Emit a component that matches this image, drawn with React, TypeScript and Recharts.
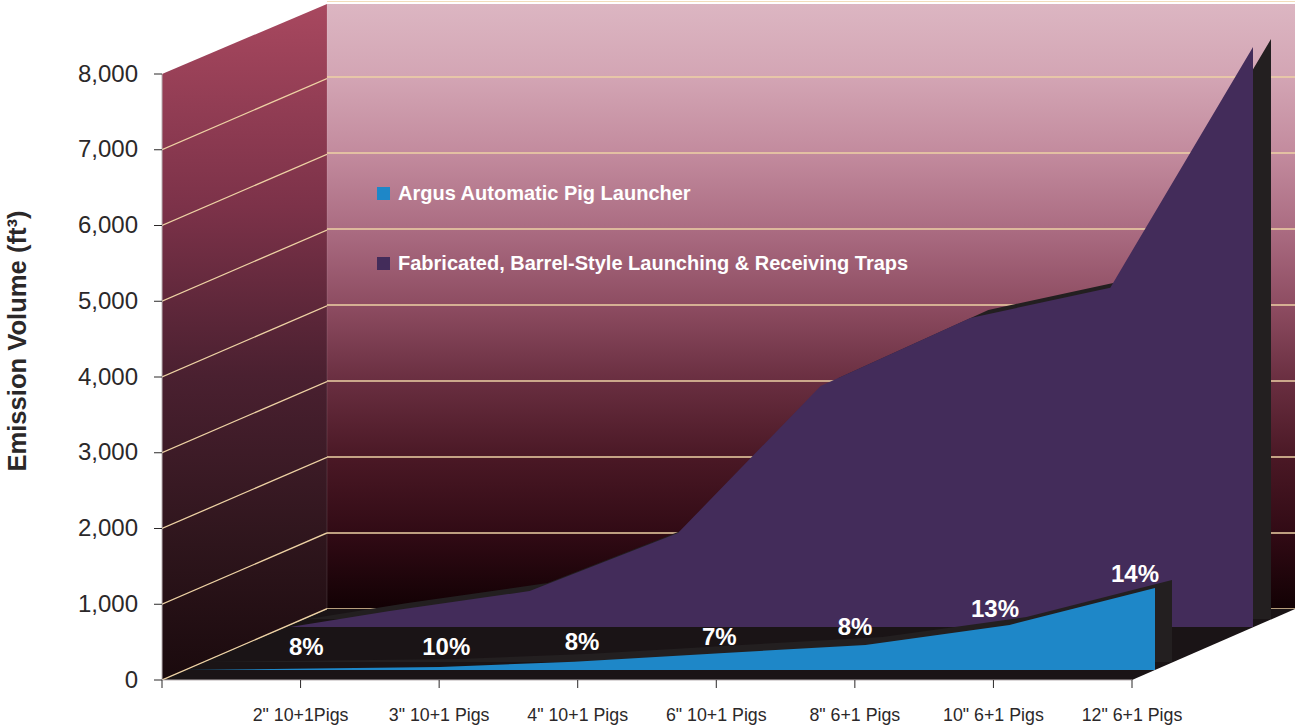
import {
  Area,
  AreaChart,
  CartesianGrid,
  ComposedChart,
  Label,
  LabelList,
  Line,
  LineChart,
  ReferenceLine,
  XAxis,
  YAxis,
} from 'recharts'

const categories = ['2" 10+1Pigs', '3" 10+1 Pigs', '4" 10+1 Pigs', '6" 10+1 Pigs', '8" 6+1 Pigs', '10" 6+1 Pigs', '12" 6+1 Pigs']
const categorySlots = [0, 1, 2, 3, 4, 5, 6, 7]
const volumeTicks = [0, 1000, 2000, 3000, 4000, 5000, 6000, 7000, 8000]
const wallLines = [0, 1000, 2000, 3000, 4000, 5000, 6000, 7000]

const fabricatedName = 'Fabricated, Barrel-Style Launching & Receiving Traps'
const fabricatedSlots = [0.05, 0.77, 1.78, 2.85, 3.88, 4.96, 5.97, 7]
const fabricatedValues = [0, 210, 475, 1241, 3181, 4079, 4480, 7657]

const argusName = 'Argus Automatic Pig Launcher'
const argusSlots = [0, 0.77, 1.84, 2.81, 3.86, 4.91, 5.95, 7]
const argusValues = [0, 17, 40, 110, 222, 330, 594, 1083]

const shareLabels = ['8%', '10%', '8%', '7%', '8%', '13%', '14%']
const shareSlots = [1.02, 2.03, 3.01, 4, 4.98, 5.99, 7]
const shareHeights = [436, 436, 502, 581, 700, 950, 1412]

const fabricatedData = fabricatedSlots.map((at, i) => ({ at, value: fabricatedValues[i] }))
const argusData = argusSlots.map((at, i) => ({ at, value: argusValues[i] }))
const shareData = shareLabels.map((share, i) => ({ at: shareSlots[i], height: shareHeights[i], share }))
// the axes only show up when a series is bound to them
const frameData = categorySlots.map((at, i) => ({ at, level: volumeTicks[i] }))

const BLUE = '#1e87c8'
const PURPLE = '#432c5a'
const EDGE = '#231f20'
const GOLD = '#eed2a4'
const TEXT = '#2b2829'
const FONT = '"Liberation Sans", Arial, sans-serif'

// front plane of the box, in page pixels
const LEFT = 162
const TOP = 74
const WIDTH = 970
const HEIGHT = 606

// one series sits on its own plane, pushed back into the box by dx/dy
function SeriesPlane({ data, dx, dy, fill }: { data: { at: number; value: number }[]; dx: number; dy: number; fill: string }) {
  return (
    <AreaChart
      width={WIDTH}
      height={HEIGHT}
      data={data}
      margin={{ top: 0, right: 0, bottom: 0, left: 0 }}
      style={{ position: 'absolute', left: LEFT + dx, top: TOP + dy }}
    >
      <XAxis hide type="number" dataKey="at" domain={[0, 7]} />
      <YAxis hide domain={[0, 8000]} />
      <Area type="linear" dataKey="value" stroke="none" fill={fill} fillOpacity={1} isAnimationActive={false} />
    </AreaChart>
  )
}

function Walls() {
  return (
    <svg width={1295} height={727} style={{ position: 'absolute', left: 0, top: 0 }}>
      <defs>
        <linearGradient id="backWall" x1="0" y1="0" x2="0" y2="1">
          <stop offset="0%" stopColor="#dcb6c2" />
          <stop offset="12%" stopColor="#d3a5b4" />
          <stop offset="25%" stopColor="#c28a9d" />
          <stop offset="38%" stopColor="#a96a80" />
          <stop offset="50%" stopColor="#8d4c61" />
          <stop offset="62%" stopColor="#6a2f41" />
          <stop offset="75%" stopColor="#4a1825" />
          <stop offset="88%" stopColor="#300a14" />
          <stop offset="100%" stopColor="#120104" />
        </linearGradient>
        <linearGradient id="sideWall" x1="0" y1="0" x2="0" y2="1">
          <stop offset="0%" stopColor="#a8485f" />
          <stop offset="30%" stopColor="#7c3249" />
          <stop offset="55%" stopColor="#4a2030" />
          <stop offset="80%" stopColor="#2e151c" />
          <stop offset="100%" stopColor="#1a0a0d" />
        </linearGradient>
      </defs>
      <rect x={327} y={4} width={968} height={605} fill="url(#backWall)" />
      <polygon points="162,74 327,4 327,609 162,680" fill="url(#sideWall)" />
      <line x1={327} y1={4} x2={327} y2={609} stroke="#ffffff" strokeOpacity={0.12} />
      <polygon points="162,680 327,609 1295,609 1132,680" fill="#1a1416" />
    </svg>
  )
}

// the sloped gridlines on the left wall climb by the box depth
const WALL_RISE = 941

function SideGrid() {
  return (
    <LineChart
      width={165}
      height={680}
      data={frameData}
      margin={{ top: 0, right: 0, bottom: 0, left: 0 }}
      style={{ position: 'absolute', left: LEFT, top: 0 }}
    >
      <XAxis hide type="number" dataKey="at" domain={[0, 1]} allowDataOverflow />
      <YAxis hide domain={[0, 8977]} />
      <Line dataKey="level" stroke="none" dot={false} isAnimationActive={false} />
      {wallLines.map((v) => (
        <ReferenceLine
          key={v}
          segment={[
            { x: 0, y: v },
            { x: 1, y: v + WALL_RISE },
          ]}
          stroke={GOLD}
          strokeWidth={1.3}
        />
      ))}
    </LineChart>
  )
}

function BackGrid() {
  return (
    <LineChart
      width={968}
      height={608}
      data={frameData}
      margin={{ top: 0, right: 0, bottom: 0, left: 0 }}
      style={{ position: 'absolute', left: 327, top: 1 }}
    >
      <XAxis hide type="number" dataKey="at" domain={[0, 7]} />
      <YAxis hide domain={[0, 8000]} ticks={wallLines} />
      <CartesianGrid vertical={false} stroke={GOLD} strokeWidth={1.4} />
      <Line dataKey="level" stroke="none" dot={false} isAnimationActive={false} />
    </LineChart>
  )
}

function ShareLabels() {
  return (
    <ComposedChart
      width={WIDTH + 60}
      height={HEIGHT}
      data={shareData}
      margin={{ top: 0, right: 60, bottom: 0, left: 0 }}
      style={{ position: 'absolute', left: LEFT + 3, top: TOP }}
    >
      <XAxis hide type="number" dataKey="at" domain={[0, 7]} />
      <YAxis hide domain={[0, 8000]} />
      <Line dataKey="height" stroke="none" dot={false} isAnimationActive={false}>
        <LabelList dataKey="share" position="center" fill="#ffffff" fontSize={24} fontWeight={700} fontFamily={FONT} />
      </Line>
    </ComposedChart>
  )
}

function Axes() {
  return (
    <LineChart
      width={1295}
      height={727}
      data={frameData}
      margin={{ top: TOP, right: 163, bottom: 0, left: 0 }}
      style={{ position: 'absolute', left: 0, top: 0 }}
    >
      <XAxis
        type="number"
        dataKey="at"
        domain={[0, 7]}
        ticks={categorySlots}
        interval={0}
        height={47}
        tickSize={8}
        tickMargin={20}
        tickFormatter={(at: number) => (at === 0 ? '' : categories[at - 1])}
        axisLine={{ stroke: '#b8b0b2' }}
        tickLine={{ stroke: TEXT }}
        tick={{ fill: TEXT, fontSize: 17.8, fontFamily: FONT }}
      />
      <YAxis
        domain={[0, 8000]}
        ticks={volumeTicks}
        interval={0}
        width={162}
        tickSize={8}
        tickMargin={16}
        tickFormatter={(v: number) => v.toLocaleString('en-US')}
        axisLine={{ stroke: '#b8b0b2' }}
        tickLine={{ stroke: TEXT }}
        tick={{ fill: TEXT, fontSize: 24, fontFamily: FONT, dy: -1 }}
      >
        <Label
          content={() => (
            <text
              transform="translate(26,341) rotate(-90)"
              textAnchor="middle"
              fill={TEXT}
              fontSize={25.6}
              fontWeight={700}
              fontFamily={FONT}
            >
              Emission Volume (ft³)
            </text>
          )}
        />
      </YAxis>
      <Line dataKey="level" stroke="none" dot={false} isAnimationActive={false} />
    </LineChart>
  )
}

function LegendRow({ name, color, top }: { name: string; color: string; top: number }) {
  return (
    <div style={{ position: 'absolute', left: 377, top, height: 22, display: 'flex', alignItems: 'center', whiteSpace: 'nowrap' }}>
      <span style={{ width: 13, height: 13, background: color, marginRight: 8 }} />
      <span style={{ color: '#ffffff', fontFamily: FONT, fontWeight: 700, fontSize: 20 }}>{name}</span>
    </div>
  )
}

export default function App() {
  return (
    <div style={{ position: 'absolute', left: 0, top: 0, width: 1295, height: 727, overflow: 'hidden', background: '#ffffff' }}>
      <Walls />
      <BackGrid />
      <SideGrid />
      <SeriesPlane data={fabricatedData} dx={139} dy={-61} fill={EDGE} />
      <SeriesPlane data={fabricatedData} dx={121} dy={-53} fill={PURPLE} />
      <SeriesPlane data={argusData} dx={40} dy={-18} fill={EDGE} />
      <SeriesPlane data={argusData} dx={23} dy={-10} fill={BLUE} />
      <ShareLabels />
      <Axes />
      <LegendRow name={argusName} color={BLUE} top={182} />
      <LegendRow name={fabricatedName} color={PURPLE} top={252} />
    </div>
  )
}
